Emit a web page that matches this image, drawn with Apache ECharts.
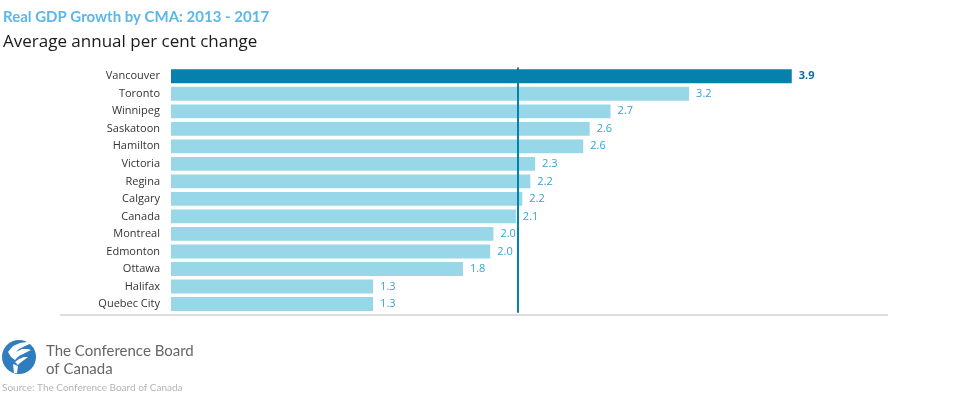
<!DOCTYPE html>
<html>
<head>
<meta charset="utf-8">
<script src="https://cdn.jsdelivr.net/npm/echarts@6/dist/echarts.min.js"></script>
<style>
html,body{margin:0;padding:0;background:#fff;}
#c{width:956px;height:410px;}
</style>
</head>
<body>
<div id="c"></div>
<script>
const categories = ['Vancouver','Toronto','Winnipeg','Saskatoon','Hamilton','Victoria','Regina','Calgary','Canada','Montreal','Edmonton','Ottawa','Halifax','Quebec City'];
const values = [3.87, 3.23, 2.74, 2.61, 2.57, 2.27, 2.24, 2.19, 2.15, 2.01, 1.99, 1.82, 1.26, 1.26];
const valueLabels = ['3.9','3.2','2.7','2.6','2.6','2.3','2.2','2.2','2.1','2.0','2.0','1.8','1.3','1.3'];
const canadaAverage = 2.16;
const titleText = 'Real GDP Growth by CMA: 2013 - 2017';
const subtitleText = 'Average annual per cent change';
const sourceText = 'Source: The Conference Board of Canada';

const chart = echarts.init(document.getElementById('c'), null, {renderer:'canvas'});
const FONT = 'Lato, "Open Sans", sans-serif';
const FONT2 = '"Open Sans", Lato, sans-serif';

const data = values.map((v, i) => {
  const item = { value: v, label: { formatter: valueLabels[i] } };
  if (i === 0) {
    item.itemStyle = { color: '#0680ad' };
    item.label.color = '#0a6d9c';
    item.label.fontWeight = 'bold';
  }
  return item;
});

chart.setOption({
  animation: false,
  grid: { left: 171, right: 68, top: 67.5, bottom: 97.2, containLabel: false },
  xAxis: { type: 'value', min: 0, max: 4.47, show: false },
  yAxis: {
    type: 'category', data: categories, inverse: true,
    axisLine: { show: false }, axisTick: { show: false },
    axisLabel: { color: '#333', fontSize: 11, fontFamily: FONT2, margin: 11 }
  },
  series: [{
    type: 'bar',
    data: data,
    barCategoryGap: '21%',
    itemStyle: { color: '#98d7e8' },
    label: {
      show: true, position: 'right', distance: 7,
      color: '#35a3d6', fontSize: 11, fontFamily: FONT2
    },
    markLine: {
      silent: true, symbol: 'none',
      label: { show: false },
      lineStyle: { color: '#0680ad', width: 2, type: 'solid' },
      data: [{ xAxis: canadaAverage }]
    }
  }],
  graphic: [
    { type: 'text', style: { x: 3, y: 10, text: titleText, fill: '#5bb7e5', font: 'bold 15px ' + FONT } },
    { type: 'text', style: { x: 3, y: 34, text: subtitleText, fill: '#1a1a1a', font: '17px ' + FONT2 } },
    { type: 'line', shape: { x1: 60, y1: 315, x2: 888, y2: 315 }, style: { stroke: '#dddddd', lineWidth: 2 } },
    { type: 'circle', shape: { cx: 19, cy: 357, r: 17 }, style: { fill: '#2f7cbf' } },
    { type: 'polygon', shape: { points: [[8,352],[13,346],[20,343],[27,342],[32,343],[25,346],[19,349],[16,352],[22,349],[28,349],[31,350],[25,353],[19,356],[15,360],[11,357]] }, style: { fill: '#ffffff' } },
    { type: 'polygon', shape: { points: [[15,362],[19,359],[24,357],[28,357],[24,360],[20,363],[18,365]] }, style: { fill: '#ffffff' } },
    { type: 'polygon', shape: { points: [[13,364],[18,366],[17,373],[14,373]] }, style: { fill: '#ffffff' } },
    { type: 'text', style: { x: 46, y: 344, text: 'The Conference Board', fill: '#666666', font: '15px ' + FONT } },
    { type: 'text', style: { x: 46, y: 362, text: 'of Canada', fill: '#666666', font: '15px ' + FONT } },
    { type: 'text', style: { x: 2, y: 383, text: sourceText, fill: '#b5b5b5', font: '10px ' + FONT } }
  ]
});
</script>
</body>
</html>
